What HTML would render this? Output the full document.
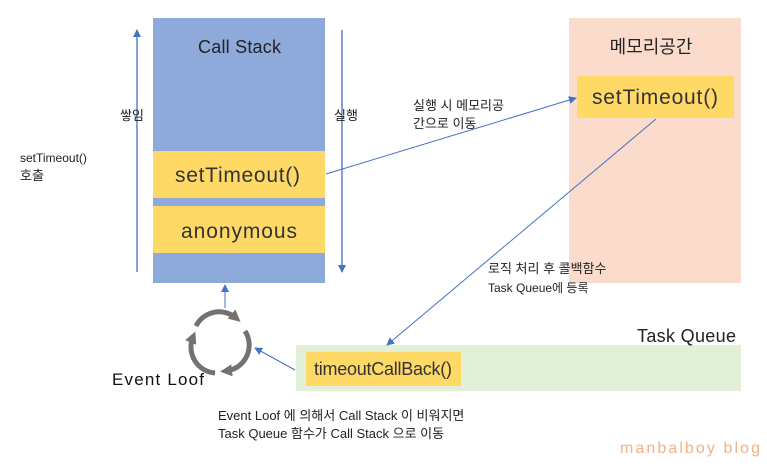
<!DOCTYPE html>
<html><head><meta charset="utf-8"><style>
body{margin:0;background:#fff;}
svg text{font-family:"Liberation Sans","Noto Sans CJK KR",sans-serif;}
</style></head><body>
<svg width="767" height="468" viewBox="0 0 767 468" xmlns="http://www.w3.org/2000/svg">
<defs>
<marker id="a" markerWidth="8" markerHeight="8" refX="7" refY="4" orient="auto" markerUnits="userSpaceOnUse"><path d="M0,0 L8,4 L0,8 z" fill="#4472c4"/></marker>
<marker id="g" markerWidth="12" markerHeight="12" refX="6" refY="6" orient="auto" markerUnits="userSpaceOnUse"><path d="M0,0 L12,6 L0,12 z" fill="#767171"/></marker>
</defs>
<rect x="153" y="18" width="172" height="265" fill="#8eaadb"/>
<text x="198" y="53" font-size="18" textLength="83" fill="#222">Call Stack</text>
<rect x="153" y="151" width="172" height="47" fill="#ffd966"/>
<text x="175" y="182" font-size="21" textLength="125" fill="#333">setTimeout()</text>
<rect x="153" y="206" width="172" height="47" fill="#ffd966"/>
<text x="181" y="238" font-size="21" textLength="116" fill="#333">anonymous</text>
<rect x="569" y="18" width="172" height="265" fill="#fbdccc"/>
<text x="651" y="53" font-size="18" text-anchor="middle" fill="#222">메모리공간</text>
<rect x="577" y="76" width="157" height="42" fill="#ffd966"/>
<text x="592" y="104" font-size="21" textLength="126" fill="#333">setTimeout()</text>
<rect x="296" y="345" width="445" height="46" fill="#e2efd9"/>
<text x="637" y="342" font-size="18" textLength="99" fill="#222">Task Queue</text>
<rect x="306" y="352" width="155" height="34" fill="#ffd966"/>
<text x="314" y="375" font-size="18" textLength="138" fill="#333">timeoutCallBack()</text>
<line x1="137" y1="272" x2="137" y2="30" stroke="#4472c4" stroke-width="1.3" marker-end="url(#a)"/>
<line x1="342" y1="30" x2="342" y2="272" stroke="#4472c4" stroke-width="1.3" marker-end="url(#a)"/>
<text x="120" y="120" font-size="13" fill="#222">쌓임</text>
<text x="334" y="120" font-size="13" fill="#222">실행</text>
<text x="20" y="162" font-size="12" fill="#222">setTimeout()</text>
<text x="20" y="180" font-size="13" fill="#222">호출</text>
<line x1="326" y1="174" x2="576" y2="98" stroke="#4472c4" stroke-width="1" marker-end="url(#a)"/>
<text x="413" y="110" font-size="13" fill="#222">실행 시 메모리공</text>
<text x="413" y="128" font-size="13" fill="#222">간으로 이동</text>
<line x1="656" y1="119" x2="387" y2="345" stroke="#4472c4" stroke-width="1" marker-end="url(#a)"/>
<text x="488" y="273" font-size="13" fill="#222">로직 처리 후 콜백함수</text>
<text x="488" y="292" font-size="12" fill="#222">Task Queue에 등록</text>
<line x1="295" y1="370" x2="255" y2="348" stroke="#4472c4" stroke-width="1" marker-end="url(#a)"/>
<line x1="225" y1="308" x2="225" y2="285" stroke="#4472c4" stroke-width="1" marker-end="url(#a)"/>
<g fill="none" stroke="#767171" stroke-width="5">
<path d="M196,326 A26,26 0 0 1 236,318" marker-end="url(#g)"/>
<path d="M245,331 A26,26 0 0 1 226,371" marker-end="url(#g)"/>
<path d="M215,373 A26,26 0 0 1 193,337" marker-end="url(#g)"/>
</g>
<text x="112" y="385" font-size="17" textLength="92" fill="#111">Event Loof</text>
<text x="218" y="420" font-size="13" fill="#222">Event Loof 에 의해서 Call Stack 이 비워지면</text>
<text x="218" y="438" font-size="13" fill="#222">Task Queue 함수가 Call Stack 으로 이동</text>
<text x="620" y="453" font-size="16" textLength="140" fill="#f4b183">manbalboy blog</text>
</svg>
</body></html>
